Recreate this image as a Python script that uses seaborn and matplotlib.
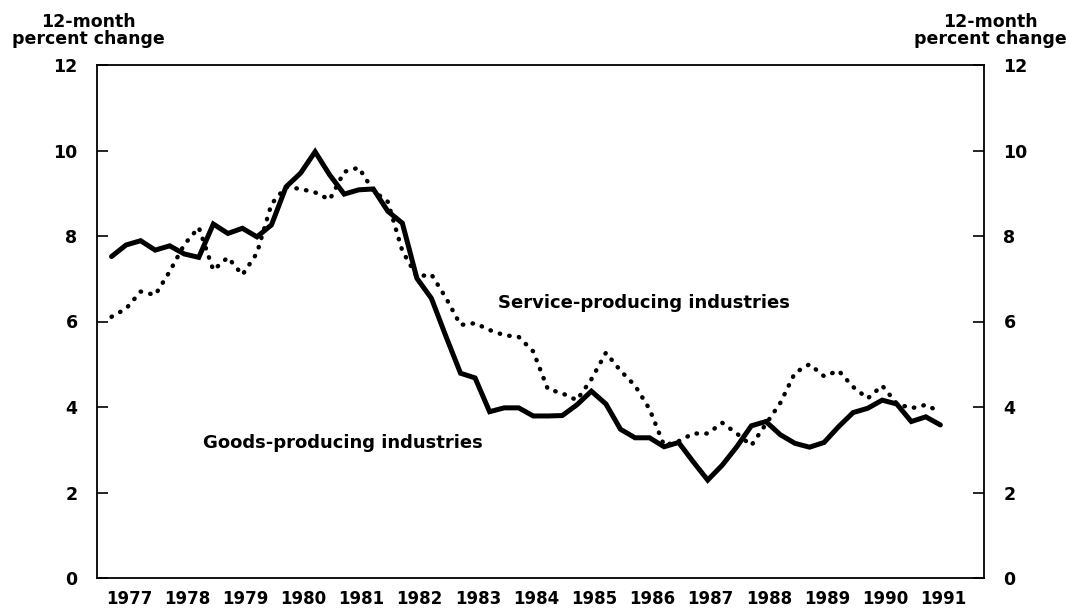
import numpy as np
import pandas as pd
import matplotlib
matplotlib.use('Agg')
import matplotlib.pyplot as plt
import seaborn as sns

# 12-month percent change, quarterly, 1977 Q1 .. 1991 Q2
years = list(range(1977, 1992))
goods = [7.52, 7.79, 7.89, 7.67, 7.77, 7.58, 7.50, 8.28, 8.06, 8.18,
         7.98, 8.26, 9.15, 9.47, 9.97, 9.43, 8.98, 9.08, 9.10, 8.58,
         8.30, 7.01, 6.54, 5.65, 4.79, 4.68, 3.89, 3.98, 3.98, 3.79,
         3.79, 3.80, 4.05, 4.37, 4.07, 3.48, 3.28, 3.28, 3.07, 3.17,
         2.72, 2.29, 2.64, 3.07, 3.56, 3.66, 3.35, 3.15, 3.06, 3.17,
         3.54, 3.87, 3.97, 4.16, 4.07, 3.66, 3.77, 3.58]
services = [6.11, 6.30, 6.70, 6.62, 7.17, 7.80, 8.20, 7.20, 7.50, 7.09,
            7.60, 8.75, 9.15, 9.10, 9.02, 8.85, 9.50, 9.60, 9.06, 8.80,
            7.65, 7.05, 7.10, 6.55, 5.92, 5.96, 5.80, 5.68, 5.64, 5.30,
            4.42, 4.32, 4.16, 4.65, 5.27, 4.85, 4.50, 3.95, 3.10, 3.20,
            3.38, 3.38, 3.63, 3.38, 3.10, 3.60, 4.10, 4.80, 5.00, 4.72,
            4.85, 4.47, 4.20, 4.50, 4.08, 3.97, 4.05, 3.88]

n = len(goods)
quarter = np.arange(1, n + 1)  # 1 = 1977 Q1
df = pd.DataFrame({'quarter': np.concatenate([quarter, quarter]),
                   'change': goods + services,
                   'series': ['Goods'] * n + ['Services'] * n})

sns.set_style('white')
plt.rcParams['font.family'] = ['DejaVu Sans']
plt.rcParams['text.color'] = 'black'
plt.rcParams['xtick.color'] = 'black'
plt.rcParams['ytick.color'] = 'black'

fig = plt.figure(figsize=(10.66, 6.12), dpi=100)
ax = fig.add_axes([97 / 1066, 34 / 612, 887 / 1066, 513 / 612])

sns.lineplot(data=df[df['series'] == 'Services'], x='quarter', y='change', ax=ax,
             color='black', linewidth=3.2, linestyle=(0, (0.1, 2.1)),
             dash_capstyle='round')
sns.lineplot(data=df[df['series'] == 'Goods'], x='quarter', y='change', ax=ax,
             color='black', linewidth=3.6, solid_joinstyle='miter')

ax.set_xlim(0, 61)
ax.set_ylim(0, 12)
ax.set_xlabel('')
ax.set_ylabel('')

for s in ax.spines.values():
    s.set_visible(True)
    s.set_color('black')
    s.set_linewidth(1.3)

# y axis on both sides
ax.set_yticks(range(0, 13, 2))
ax.tick_params(axis='y', direction='in', length=8, width=1.2,
               left=True, right=True, labelleft=True, labelright=True,
               labelsize=12.5, pad=14)
for lab in ax.get_yticklabels():
    lab.set_fontweight('bold')

# quarterly minor ticks, yearly major ticks
ax.set_xticks(np.arange(4, 61, 4))
ax.set_xticks(np.arange(1, 61), minor=True)
ax.tick_params(axis='x', which='major', direction='in', length=10, width=1.2,
               labelbottom=False)
ax.tick_params(axis='x', which='minor', direction='in', length=6, width=1.0)

# year labels centred in each year block
secax = ax.secondary_xaxis('bottom')
secax.set_xticks(np.arange(len(years)) * 4 + 2.2, labels=[str(y) for y in years])
secax.tick_params(length=0, pad=9, labelsize=12)
secax.spines['bottom'].set_visible(False)
for lab in secax.get_xticklabels():
    lab.set_fontweight('bold')

ax.text(37.6, 6.43, 'Service-producing industries', ha='center', va='center',
        fontsize=13, fontweight='bold')
ax.text(16.9, 3.15, 'Goods-producing industries', ha='center', va='center',
        fontsize=13, fontweight='bold')

for xf in (88 / 1066, 990 / 1066):
    fig.text(xf, 1 - 48 / 612, '12-month\npercent change', ha='center', va='bottom',
             fontsize=12.5, fontweight='bold', linespacing=0.95)

fig.savefig('out.png', dpi=100)
